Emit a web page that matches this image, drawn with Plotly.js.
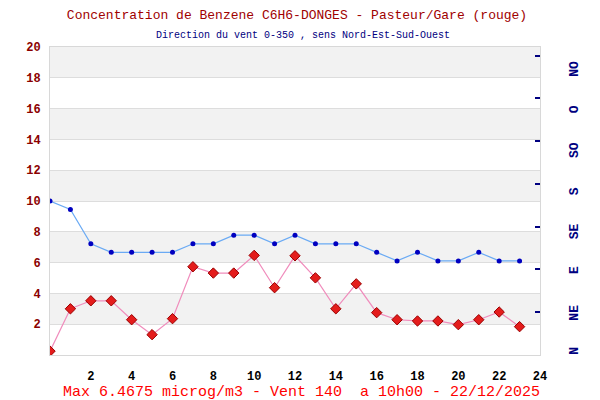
<!DOCTYPE html>
<html>
<head>
<meta charset="utf-8">
<script src="https://cdn.plot.ly/plotly-3.0.1.min.js"></script>
<style>html,body{margin:0;padding:0;background:#fff}#chart{width:600px;height:400px}</style>
</head>
<body>
<div id="chart"></div>
<script>
// Data
var hours = [0,1,2,3,4,5,6,7,8,9,10,11,12,13,14,15,16,17,18,19,20,21,22,23];
var benzene = [0.25,3.0,3.52,3.52,2.29,1.32,2.36,5.73,5.32,5.32,6.4675,4.37,6.44,5.01,3.0,4.62,2.75,2.29,2.21,2.21,1.97,2.29,2.79,1.84];
var windDir = [180,170,130,120,120,120,120,130,130,140,140,130,140,130,130,130,120,110,120,110,110,120,110,110];
var xTicks = [2,4,6,8,10,12,14,16,18,20,22,24];
var yTicks = [2,4,6,8,10,12,14,16,18,20];
var dirTickVals = [50,100,150,200,250,300,350];
var dirLabels = ['N','NE','E','SE','S','SO','O','NO'];
var dirLabelPos = [2.5,47,97,142,189,237,285,332];
var bandStarts = [2,6,10,14,18];

var mono = '"Liberation Mono", "DejaVu Sans Mono", monospace';

var shapes = bandStarts.map(function(b){
  return {type:'rect', xref:'paper', yref:'y', x0:0, x1:1, y0:b, y1:b+2,
          fillcolor:'#f2f2f2', line:{width:0}, layer:'below'};
});

var traces = [
  {x:hours, y:windDir, yaxis:'y2', type:'scatter', mode:'lines+markers',
   line:{color:'#6aaaf4', width:1.2},
   marker:{color:'#0000c0', size:5, symbol:'circle'}, hoverinfo:'skip'},
  {x:hours, y:benzene, yaxis:'y', type:'scatter', mode:'lines+markers',
   line:{color:'#f08cbc', width:1.2},
   marker:{color:'#e41c1c', size:8, symbol:'diamond', line:{color:'#9a0000', width:1}}, hoverinfo:'skip'},
  {x:[0], y:[0], yaxis:'y3', type:'scatter', mode:'markers',
   marker:{opacity:0}, hoverinfo:'skip'}
];

var layout = {
  width:600, height:400,
  margin:{l:50, r:60, t:47, b:45},
  paper_bgcolor:'#ffffff', plot_bgcolor:'#ffffff',
  showlegend:false,
  shapes:shapes,
  title:{text:'Concentration de Benzene C6H6-DONGES - Pasteur/Gare (rouge)',
         font:{family:mono, size:13, color:'#a00000'},
         x:0.495, xanchor:'center', y:0.965, yanchor:'middle'},
  annotations:[
    {text:'Direction du vent 0-350 , sens Nord-Est-Sud-Ouest', xref:'paper', yref:'paper',
     x:0.517, y:1.0, yshift:12, xanchor:'center', yanchor:'middle', showarrow:false,
     font:{family:mono, size:10, color:'#000080'}},
    {text:'Max 6.4675 microg/m3 - Vent 140  a 10h00 - 22/12/2025', xref:'paper', yref:'paper',
     x:0.513, y:0, yshift:-37, xanchor:'center', yanchor:'middle', showarrow:false,
     font:{family:mono, size:15, color:'#ff0000'}}
  ],
  xaxis:{range:[0,24], tickvals:xTicks, showgrid:false, zeroline:false,
         showline:true, linecolor:'#d8d8d8', linewidth:1, mirror:true,
         ticks:'', ticklabelstandoff:10,
         tickfont:{family:mono, size:12, color:'#000000', weight:'bold'}},
  yaxis:{range:[0,20], tickvals:yTicks, showgrid:true, gridcolor:'#dddddd', gridwidth:1,
         zeroline:false, showline:true, linecolor:'#d8d8d8', linewidth:1, mirror:true,
         ticks:'', ticklabelstandoff:6,
         tickfont:{family:mono, size:12, color:'#8b0000', weight:'bold'}},
  yaxis2:{range:[0,360], overlaying:'y', side:'right', anchor:'x',
          tickvals:dirTickVals, showticklabels:false, ticks:'inside', ticklen:5,
          tickwidth:2, tickcolor:'#000080', showgrid:false, zeroline:false, showline:false},
  yaxis3:{range:[0,360], overlaying:'y', side:'right', anchor:'x',
          tickvals:dirLabelPos, ticktext:dirLabels, tickangle:-90, ticks:'',
          ticklabelstandoff:24, showgrid:false, zeroline:false, showline:false,
          tickfont:{family:mono, size:13, color:'#000080', weight:'bold'}}
};

Plotly.newPlot('chart', traces, layout, {staticPlot:true});
</script>
</body>
</html>
